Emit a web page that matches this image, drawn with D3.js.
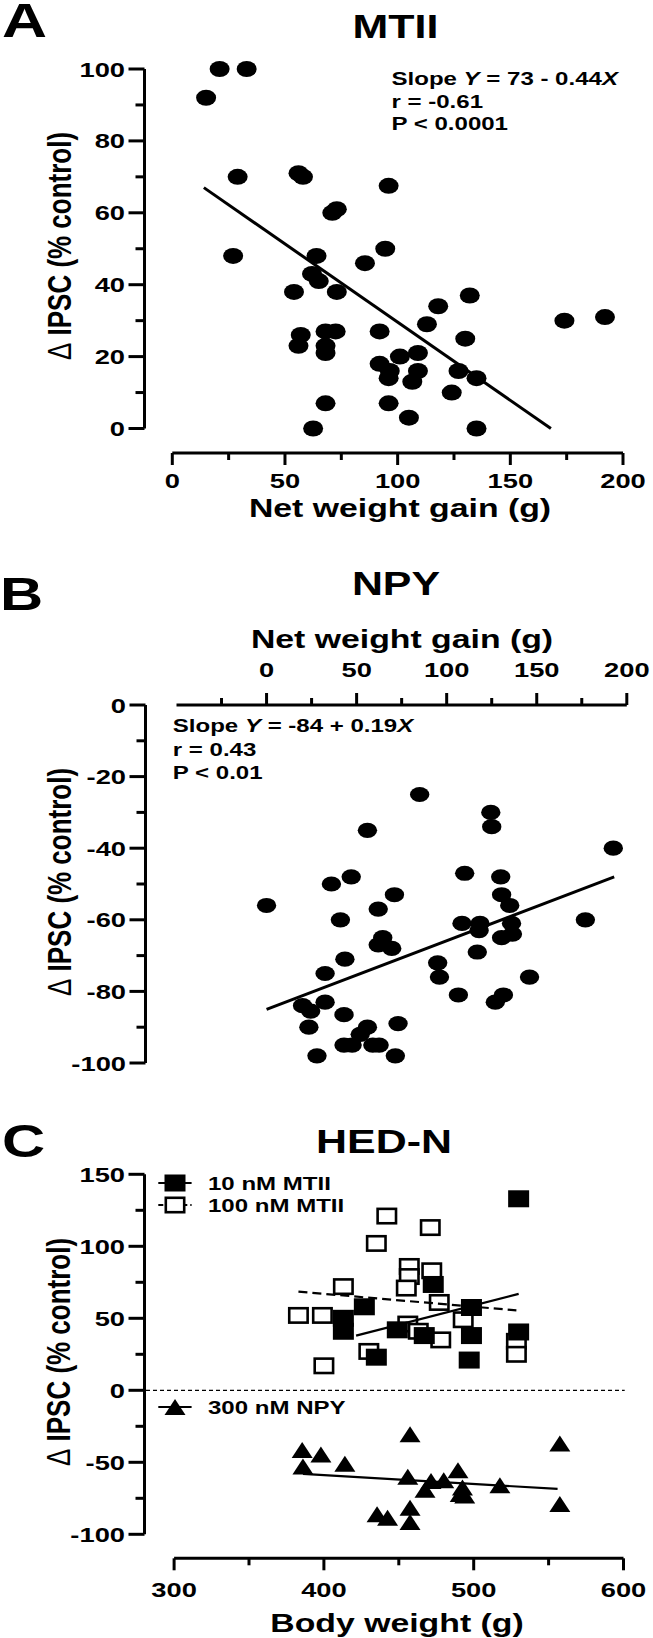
<!DOCTYPE html>
<html><head><meta charset="utf-8">
<script src="https://cdn.jsdelivr.net/npm/d3@7"></script>
<style>
html,body{margin:0;padding:0;background:#fff;}
svg{display:block;background:#fff;}
text{font-family:"Liberation Sans",Arial,Helvetica,sans-serif;font-weight:bold;fill:#000;}
</style></head><body>
<svg id="chart" width="653" height="1638"></svg>
<script>
// ---------- Panel A: MTII ----------
const aX = [21,33,15,29,56,58,96,73,71,27,64,94.5,85.5,62,65,73,54,132,118,113,174,192,57,56,68,72.5,68,68,92,130,101,109,92,96.5,96,109,106.5,127,135,124,68,96,105,62.5,135];
const aY = [100,100,92,70,71,70,67.5,61,60,48,48,50,46,43,41,38,38,37,34,29,30,31,26,23,27,27,23,21,27,25,20,21,18,16,14,16,13,16,14,10,7,7,3,0,0];
const aFitX = [14,168];
const aFitY = [67,0];
const aXTicks = [0,50,100,150,200];
const aXMinor = [25,75,125,175];
const aYTicks = [0,20,40,60,80,100];
const aYMinor = [10,30,50,70,90];

// ---------- Panel B: NPY ----------
const bX = [0,85,124.5,125,56,192.5,110,130,47,36,71,130.5,135,62,136,136.5,130.5,41,108.5,118.5,118,177,64.5,62,69.5,117,43.5,95,96,146,32.5,106.5,131.5,127,20,24.5,32.5,43,23.5,56,73,52,43,47.5,59,62.5,28,71.5];
const bY = [-56,-25,-30,-34,-35,-40,-47,-48,-48,-50,-53,-53,-56,-57,-61,-64,-65,-60,-61,-61,-63,-60,-65,-67,-68,-69,-71,-72,-76,-76,-75,-81,-81,-83,-84,-85.5,-83,-86.5,-90,-90,-89,-92,-95,-95,-95,-95,-98,-98];
const bFitX = [0,193];
const bFitY = [-85,-48];
const bXTicks = [0,50,100,150,200];
const bXMinor = [-25,25,75,125,175];
const bYTicks = [0,-20,-40,-60,-80,-100];
const bYMinor = [-10,-30,-50,-70,-90];

// ---------- Panel C: HED-N ----------
const c10X = [530,473,427,413,413,449,467,498.5,498.5,497,435,530];
const c10Y = [133,73.5,58,50,41,42,38,57.5,38,21,23,40.5];
const c100X = [442,471,435,457,457,472,455,413,477,383,399,430,400,456,463,478,493,528.5,528.5];
const c100Y = [121,113,102,86,79,83,71,72,61,52,52,27,17,46,41,35,49,34,25];
const cNpyX = [385.5,398,414,386,457.5,557.5,456,489.5,471.5,480,492.5,491,494,467.5,517.5,457.5,457.5,435.5,442.5,557.5];
const cNpyY = [-41.5,-44.5,-51,-53,-30.5,-37,-60,-55.5,-63,-62.5,-67.5,-72,-73,-69,-66,-81.5,-91.5,-86,-88.5,-79];
const c10FitX = [421.5,530];
const c10FitY = [38,67];
const c100FitX = [383,528.5];
const c100FitY = [68.5,55.5];
const cNpyFitX = [386,556];
const cNpyFitY = [-58,-68.5];
const cXTicks = [300,400,500,600];
const cXMinor = [350,450,550];
const cYTicks = [150,100,50,0,-50,-100];
const cYMinor = [125,75,25,-25,-75];
const cLegend = ["10 nM MTII","100 nM MTII","300 nM NPY"];

// ---------- drawing ----------
const SX = 1.3;           // horizontal stretch of the original figure
const svg = d3.select("#chart");

function stext(x, y, str, size, anchor) {
  return svg.append("text")
    .attr("transform", `translate(${x},${y}) scale(${SX},1)`)
    .attr("text-anchor", anchor || "start")
    .style("font-size", size + "px")
    .text(str);
}
function ytitle(x, y) {
  const t = svg.append("text")
    .attr("transform", `translate(${x},${y}) scale(${SX},1) rotate(-90)`)
    .attr("text-anchor", "middle")
    .style("font-size", "26px");
  t.append("tspan").style("font-weight", "normal").text("\u0394");
  t.append("tspan").text(" IPSC (% control)");
}
function annot(x, y0, dy, parts) {
  parts.forEach((line, i) => {
    const t = svg.append("text")
      .attr("transform", `translate(${x},${y0 + i * dy}) scale(${SX},1)`)
      .style("font-size", "18.5px");
    line.forEach(p => t.append("tspan").style("font-style", p[1] ? "italic" : "normal").text(p[0]));
  });
}
function styleAxis(g) {
  g.attr("font-family", null).attr("font-size", null);
  g.select(".domain").attr("stroke", "#000").attr("stroke-width", 3);
  g.selectAll(".tick line").attr("stroke", "#000").attr("stroke-width", 3);
}
function yAxis(scale, x, major, minor) {
  const g = svg.append("g").attr("transform", `translate(${x},0)`);
  g.call(d3.axisLeft(scale).tickValues(major).tickSize(16).tickSizeOuter(0).tickPadding(3.5).offset(0).tickFormat(d => String(d)));
  styleAxis(g);
  g.selectAll(".tick text").each(function () {
    const t = d3.select(this); const x0 = +t.attr("x");
    t.attr("x", 0).attr("transform", `translate(${x0},0) scale(${SX},1)`);
  }).attr("dy", "0.36em").style("font-size", "21px");
  g.selectAll(".minor").data(minor).join("line").attr("class", "minor")
    .attr("x1", -9).attr("x2", 0).attr("y1", d => scale(d)).attr("y2", d => scale(d))
    .attr("stroke", "#000").attr("stroke-width", 3);
}
function xAxis(scale, y, major, minor, top, labelY) {
  const g = svg.append("g").attr("transform", `translate(0,${y})`);
  const ax = (top ? d3.axisTop(scale) : d3.axisBottom(scale));
  g.call(ax.tickValues(major).tickSize(12).tickSizeOuter(0).offset(0).tickFormat(d => String(d)));
  styleAxis(g);
  g.selectAll(".tick text").attr("y", labelY).attr("dy", null)
    .attr("transform", `scale(${SX},1)`).style("font-size", "21px");
  const s = top ? -1 : 1;
  g.selectAll(".minor").data(minor).join("line").attr("class", "minor")
    .attr("x1", d => scale(d)).attr("x2", d => scale(d)).attr("y1", 0).attr("y2", 7 * s)
    .attr("stroke", "#000").attr("stroke-width", 3);
}
function fitLine(sx, sy, xs, ys, w, dash) {
  svg.append("path")
    .datum(xs.map((v, i) => [v, ys[i]]))
    .attr("d", d3.line().x(d => sx(d[0])).y(d => sy(d[1])))
    .attr("fill", "none").attr("stroke", "#000").attr("stroke-width", w)
    .attr("stroke-dasharray", dash || null);
}

// ===== Panel A =====
const xA = d3.scaleLinear().domain([0, 200]).range([172.3, 623]);
const yA = d3.scaleLinear().domain([0, 100]).range([428.5, 69]);
stext(2, 37, "A", 48);
stext(395.5, 38, "MTII", 33, "middle");
yAxis(yA, 144.5, aYTicks, aYMinor);
xAxis(xA, 453, aXTicks, aXMinor, false, 35);
stext(400, 517, "Net weight gain (g)", 26, "middle");
ytitle(71, 246);
svg.append("g").selectAll("ellipse").data(aX.map((v, i) => [v, aY[i]])).join("ellipse")
  .attr("cx", d => xA(d[0])).attr("cy", d => yA(d[1])).attr("rx", 10).attr("ry", 8).attr("fill", "#000");
fitLine(xA, yA, aFitX, aFitY, 3);
annot(391.5, 85, 22.5, [[["Slope ", 0], ["Y", 1], [" = 73 - 0.44", 0], ["X", 1]], [["r = -0.61", 0]], [["P < 0.0001", 0]]]);

// ===== Panel B =====
const xB = d3.scaleLinear().domain([-50, 200]).range([176.5, 626.8]);
const yB = d3.scaleLinear().domain([-100, 0]).range([1063, 705]);
stext(0, 610, "B", 46);
stext(396, 595, "NPY", 33, "middle");
stext(402, 648, "Net weight gain (g)", 26, "middle");
xAxis(xB, 705, bXTicks, bXMinor, true, -28);
yAxis(yB, 145.5, bYTicks, bYMinor);
ytitle(71, 882);
svg.append("g").selectAll("ellipse").data(bX.map((v, i) => [v, bY[i]])).join("ellipse")
  .attr("cx", d => xB(d[0])).attr("cy", d => yB(d[1])).attr("rx", 9.7).attr("ry", 7.6).attr("fill", "#000");
fitLine(xB, yB, bFitX, bFitY, 3);
annot(172.8, 732, 23.5, [[["Slope ", 0], ["Y", 1], [" = -84 + 0.19", 0], ["X", 1]], [["r = 0.43", 0]], [["P < 0.01", 0]]]);

// ===== Panel C =====
const xC = d3.scaleLinear().domain([300, 600]).range([174.1, 623.5]);
const yC = d3.scaleLinear().domain([-100, 150]).range([1534.3, 1174.3]);
stext(2, 1157, "C", 46);
stext(384, 1153, "HED-N", 33, "middle");
yAxis(yC, 144.5, cYTicks, cYMinor);
xAxis(xC, 1558.3, cXTicks, cXMinor, false, 38.7);
stext(397, 1632, "Body weight (g)", 26, "middle");
ytitle(70, 1352);
// zero reference line
svg.append("line").attr("x1", 146).attr("x2", 624.7).attr("y1", yC(0)).attr("y2", yC(0))
  .attr("stroke", "#000").attr("stroke-width", 1.2).attr("stroke-dasharray", "4,3");

const SQW = 21, SQH = 17;
const triPath = (w, h) => `M0,${-h / 2}L${w / 2},${h / 2}L${-w / 2},${h / 2}Z`;
// open squares (100 nM MTII)
svg.append("g").selectAll("rect").data(c100X.map((v, i) => [v, c100Y[i]])).join("rect")
  .attr("x", d => xC(d[0]) - (SQW - 2.6) / 2).attr("y", d => yC(d[1]) - (SQH - 2.6) / 2)
  .attr("width", SQW - 2.6).attr("height", SQH - 2.6)
  .attr("fill", "#fff").attr("stroke", "#000").attr("stroke-width", 2.6);
// filled squares (10 nM MTII)
svg.append("g").selectAll("rect").data(c10X.map((v, i) => [v, c10Y[i]])).join("rect")
  .attr("x", d => xC(d[0]) - SQW / 2).attr("y", d => yC(d[1]) - SQH / 2)
  .attr("width", SQW).attr("height", SQH).attr("fill", "#000");
// triangles (300 nM NPY)
svg.append("g").selectAll("path").data(cNpyX.map((v, i) => [v, cNpyY[i]])).join("path")
  .attr("transform", d => `translate(${xC(d[0])},${yC(d[1])})`)
  .attr("d", triPath(21, 16)).attr("fill", "#000");
fitLine(xC, yC, c10FitX, c10FitY, 2.2);
fitLine(xC, yC, c100FitX, c100FitY, 2.2, "9,5");
fitLine(xC, yC, cNpyFitX, cNpyFitY, 2.2);

// legend
const lgY = [1183, 1205, 1407];
lgY.forEach((y, i) => {
  svg.append("line").attr("x1", 158.3).attr("x2", 191.6).attr("y1", y).attr("y2", y)
    .attr("stroke", "#000").attr("stroke-width", 2.2).attr("stroke-dasharray", i === 1 ? "5,3" : null);
  if (i === 0) svg.append("rect").attr("x", 175 - SQW / 2).attr("y", y - SQH / 2).attr("width", SQW).attr("height", SQH).attr("fill", "#000");
  if (i === 1) svg.append("rect").attr("x", 175 - (SQW - 2.6) / 2).attr("y", y - (SQH - 2.6) / 2)
    .attr("width", SQW - 2.6).attr("height", SQH - 2.6).attr("fill", "#fff").attr("stroke", "#000").attr("stroke-width", 2.6);
  if (i === 2) svg.append("path").attr("transform", `translate(175,${y})`).attr("d", triPath(21, 16)).attr("fill", "#000");
  stext(208, y + 6.5, cLegend[i], 18.5);
});
</script>
</body></html>
